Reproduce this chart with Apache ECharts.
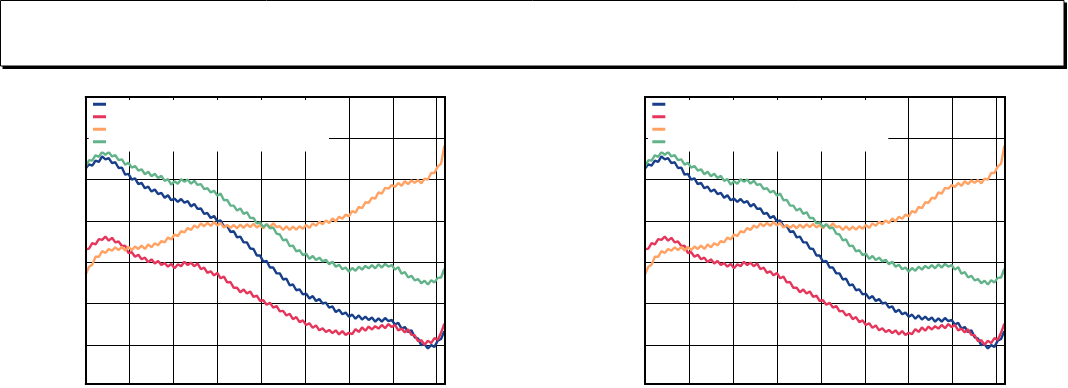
<!DOCTYPE html>
<html>
<head>
<meta charset="utf-8">
<script src="https://cdn.jsdelivr.net/npm/echarts@6/dist/echarts.min.js"></script>
<style>
html,body{margin:0;padding:0;background:#fff;}
#c{width:1068px;height:388px;}
</style>
</head>
<body>
<div id="c"></div>
<script>
// Sampling step along x (axis units), samples start at 0
const xStep = 0.075;
const xMax = 8.19;
const yMax = 6.95;

const seriesNames = ['Series 1', 'Series 2', 'Series 3', 'Series 4'];
const seriesColors = ['#173e88', '#e5355b', '#ffa263', '#63b38a'];

// values (y axis runs downward from 0 at the top)
const blue = [1.73,1.63,1.66,1.54,1.57,1.44,1.51,1.48,1.60,1.58,
  1.72,1.71,1.88,1.86,2.00,1.97,2.11,2.08,2.21,2.17,
  2.29,2.24,2.35,2.32,2.44,2.38,2.50,2.46,2.54,2.47,
  2.56,2.52,2.65,2.59,2.71,2.70,2.83,2.81,2.93,2.88,
  3.01,2.99,3.13,3.12,3.27,3.25,3.40,3.38,3.52,3.52,
  3.67,3.68,3.84,3.84,3.99,3.97,4.13,4.13,4.27,4.27,
  4.42,4.40,4.56,4.54,4.68,4.66,4.78,4.76,4.88,4.82,
  4.94,4.89,5.00,4.98,5.10,5.07,5.21,5.15,5.26,5.22,
  5.32,5.27,5.37,5.29,5.39,5.32,5.40,5.34,5.44,5.36,
  5.44,5.35,5.43,5.40,5.51,5.47,5.61,5.57,5.69,5.65,
  5.82,5.85,6.01,5.99,6.09,6.01,6.05,5.90,5.86,5.67];

const red = [3.69,3.67,3.54,3.57,3.44,3.46,3.38,3.48,3.41,3.52,
  3.50,3.61,3.60,3.78,3.76,3.87,3.82,3.93,3.89,4.00,
  3.93,4.03,3.97,4.07,4.02,4.11,4.04,4.15,4.05,4.10,
  3.99,4.07,4.01,4.10,4.03,4.17,4.13,4.26,4.22,4.32,
  4.26,4.39,4.35,4.49,4.48,4.62,4.62,4.73,4.66,4.76,
  4.71,4.84,4.81,4.94,4.92,5.03,4.98,5.10,5.06,5.19,
  5.18,5.29,5.25,5.38,5.33,5.45,5.41,5.52,5.48,5.59,
  5.53,5.65,5.60,5.69,5.64,5.72,5.65,5.75,5.67,5.76,
  5.71,5.74,5.62,5.69,5.58,5.66,5.56,5.63,5.55,5.61,
  5.52,5.60,5.50,5.57,5.52,5.65,5.61,5.70,5.63,5.76,
  5.77,5.91,5.89,6.00,5.90,5.96,5.84,5.88,5.71,5.49];

const orange = [4.30,4.11,4.06,3.87,3.87,3.73,3.78,3.68,3.72,3.64,
  3.71,3.63,3.72,3.63,3.71,3.62,3.68,3.60,3.68,3.57,
  3.64,3.54,3.59,3.49,3.52,3.40,3.45,3.33,3.37,3.25,
  3.28,3.17,3.22,3.11,3.17,3.06,3.13,3.05,3.12,3.03,
  3.11,3.05,3.16,3.10,3.17,3.10,3.18,3.09,3.17,3.08,
  3.15,3.07,3.16,3.10,3.18,3.08,3.15,3.06,3.15,3.13,
  3.22,3.13,3.22,3.14,3.21,3.13,3.19,3.10,3.17,3.06,
  3.12,3.02,3.08,2.99,3.05,2.94,3.01,2.90,2.95,2.85,
  2.89,2.76,2.80,2.66,2.69,2.55,2.56,2.44,2.46,2.31,
  2.34,2.20,2.22,2.13,2.18,2.08,2.15,2.04,2.11,2.02,
  2.08,2.01,2.09,1.98,2.00,1.84,1.84,1.68,1.62,1.18];

const green = [1.69,1.53,1.54,1.41,1.45,1.33,1.40,1.33,1.44,1.41,
  1.53,1.51,1.64,1.59,1.71,1.67,1.78,1.75,1.87,1.81,
  1.92,1.86,1.96,1.91,2.03,1.99,2.12,2.04,2.10,1.99,
  2.05,2.00,2.10,2.03,2.13,2.11,2.23,2.21,2.31,2.27,
  2.39,2.34,2.50,2.49,2.63,2.63,2.75,2.70,2.83,2.79,
  2.93,2.93,3.06,3.04,3.15,3.08,3.18,3.16,3.31,3.33,
  3.47,3.45,3.61,3.60,3.74,3.71,3.83,3.79,3.92,3.85,
  3.95,3.89,3.98,3.94,4.05,3.99,4.11,4.06,4.17,4.13,
  4.23,4.14,4.21,4.11,4.18,4.09,4.15,4.07,4.15,4.05,
  4.13,4.04,4.11,4.07,4.18,4.12,4.28,4.24,4.37,4.33,
  4.44,4.41,4.51,4.45,4.54,4.44,4.49,4.38,4.37,4.16];

const seriesValues = [blue, red, orange, green];

function pairs(arr) {
  return arr.map(function (v, i) { return [+(i * xStep).toFixed(4), v]; });
}

const chart = echarts.init(document.getElementById('c'), null, {renderer: 'canvas'});

const grids = [
  {left: 85.7, top: 97, width: 359.3, height: 287},
  {left: 645, top: 97, width: 360, height: 287}
];

const xAxes = [], yAxes = [], series = [], legends = [];
grids.forEach(function (g, gi) {
  const base = gi * 3;
  // split-line axis (behind everything)
  xAxes.push({gridIndex: gi, type: 'value', min: 0, max: xMax, interval: 1,
    axisLine: {show: false}, axisTick: {show: false}, axisLabel: {show: false},
    splitLine: {show: true, lineStyle: {color: '#000', width: 1}}, z: 0});
  ['bottom', 'top'].forEach(function (pos) {
    xAxes.push({gridIndex: gi, type: 'value', position: pos, min: 0, max: xMax, interval: 1,
      axisLine: {show: true, onZero: false, lineStyle: {color: '#000', width: 2}},
      axisTick: {show: true, inside: true, length: 3, lineStyle: {color: '#000', width: 1}},
      axisLabel: {show: false}, splitLine: {show: false}, z: 10});
  });
  yAxes.push({gridIndex: gi, type: 'value', inverse: true, min: 0, max: yMax, interval: 1,
    axisLine: {show: false}, axisTick: {show: false}, axisLabel: {show: false},
    splitLine: {show: true, lineStyle: {color: '#000', width: 1}}, z: 0});
  ['left', 'right'].forEach(function (pos) {
    yAxes.push({gridIndex: gi, type: 'value', position: pos, inverse: true, min: 0, max: yMax, interval: 1,
      axisLine: {show: true, onZero: false, lineStyle: {color: '#000', width: 2}},
      axisTick: {show: true, inside: true, length: 3, lineStyle: {color: '#000', width: 1}},
      axisLabel: {show: false}, splitLine: {show: false}, z: 10});
  });
  seriesValues.forEach(function (vals, si) {
    series.push({
      type: 'line', name: seriesNames[si], xAxisIndex: base, yAxisIndex: base,
      data: pairs(vals), symbol: 'none', showSymbol: false,
      color: seriesColors[si], itemStyle: {color: seriesColors[si]},
      lineStyle: {color: seriesColors[si], width: 2.4},
      emphasis: {disabled: true}, z: 2, silent: true
    });
  });
  legends.push({
    orient: 'vertical', left: g.left + 1.3, top: 97.5,
    backgroundColor: '#fff', borderWidth: 0,
    padding: [0.5, 6, 3.5, 6],
    icon: 'rect', itemWidth: 13, itemHeight: 3, itemGap: 0,
    data: seriesNames,
    textStyle: {color: '#fff', fontSize: 10, lineHeight: 12.5, width: 212, overflow: 'truncate'},
    selectedMode: false, z: 4
  });
});

chart.setOption({
  animation: false,
  backgroundColor: '#fff',
  grid: grids.map(function (g) { return Object.assign({outerBoundsMode: 'none', containLabel: false}, g); }),
  xAxis: xAxes,
  yAxis: yAxes,
  legend: legends,
  series: series,
  graphic: [{
    type: 'rect', z: 0, silent: true,
    shape: {x: 2.5, y: 2.5, width: 1064.5, height: 66.5},
    style: {fill: '#000'}
  }, {
    type: 'rect', z: 1, silent: true,
    shape: {x: 0.5, y: 0.5, width: 1063.5, height: 65.5},
    style: {fill: '#fff', stroke: '#000', lineWidth: 1}
  }]
});
</script>
</body>
</html>
